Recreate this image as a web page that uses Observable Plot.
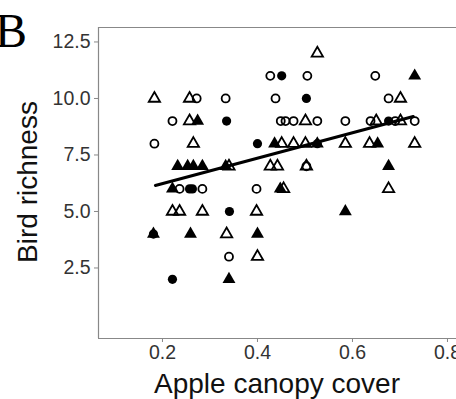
<!DOCTYPE html>
<html>
<head>
<meta charset="utf-8">
<script src="https://cdn.jsdelivr.net/npm/d3@7"></script>
<script src="https://cdn.jsdelivr.net/npm/@observablehq/plot@0.6"></script>
<style>
  html, body { margin: 0; padding: 0; background: #fff; }
  #chart { width: 456px; height: 399px; overflow: hidden; }
</style>
</head>
<body>
<div id="chart"></div>
<script>
// Tick values
const xTicks = [0.2, 0.4, 0.6, 0.8];
const yTicks = [2.5, 5.0, 7.5, 10.0, 12.5];

// Open circles
const openCircleX = [0.427, 0.505, 0.648, 0.272, 0.333, 0.438, 0.676, 0.221, 0.449, 0.459, 0.476, 0.526, 0.585, 0.638, 0.690, 0.731, 0.183, 0.503, 0.236, 0.284, 0.398, 0.340];
const openCircleY = [11, 11, 11, 10, 10, 10, 10, 9, 9, 9, 9, 9, 9, 9, 9, 9, 8, 7, 6, 6, 6, 3];

// Open triangles
const openTriX = [0.526, 0.183, 0.257, 0.701, 0.257, 0.501, 0.650, 0.701, 0.265, 0.451, 0.476, 0.501, 0.585, 0.636, 0.731, 0.340, 0.427, 0.442, 0.503, 0.455, 0.676, 0.221, 0.236, 0.284, 0.398, 0.335, 0.400];
const openTriY = [12, 10, 10, 10, 9, 9, 9, 9, 8, 8, 8, 8, 8, 8, 8, 7, 7, 7, 7, 6, 6, 5, 5, 5, 5, 4, 3];

// Filled circles
const fillCircleX = [0.451, 0.503, 0.335, 0.676, 0.400, 0.526, 0.257, 0.263, 0.341, 0.181, 0.221];
const fillCircleY = [11, 10, 9, 9, 8, 8, 6, 6, 5, 4, 2];

// Filled triangles
const fillTriX = [0.731, 0.274, 0.436, 0.526, 0.653, 0.232, 0.253, 0.265, 0.284, 0.333, 0.676, 0.221, 0.448, 0.585, 0.181, 0.259, 0.400, 0.340];
const fillTriY = [11, 9, 8, 8, 8, 7, 7, 7, 7, 7, 7, 6, 6, 5, 4, 4, 4, 2];

// Fitted line
const fitX = [0.185, 0.728];
const fitY = [6.15, 9.2];

const xDomain = [0.0653, 0.819];
const yDomain = [-0.62, 13.14];

const zip = (xs, ys) => xs.map((x, i) => ({x, y: ys[i]}));
const openCircles = zip(openCircleX, openCircleY);
const openTris = zip(openTriX, openTriY);
const fillCircles = zip(fillCircleX, fillCircleY);
const fillTris = zip(fillTriX, fillTriY);
const fit = zip(fitX, fitY);

const plot = Plot.plot({
  width: 456,
  height: 399,
  marginLeft: 98,
  marginRight: 0,
  marginTop: 27,
  marginBottom: 61,
  style: {fontFamily: "'Liberation Sans', Arial, sans-serif", fontSize: "19.5px", color: "#333", background: "#fff", overflow: "visible"},
  x: {domain: xDomain, ticks: xTicks, tickFormat: d => d.toFixed(1), tickSize: 4, tickPadding: 3, label: null},
  y: {domain: yDomain, ticks: yTicks, tickFormat: d => d.toFixed(1), tickSize: 4, tickPadding: 4, label: null},
  marks: [
    Plot.ruleX([xDomain[0]], {stroke: "#888", strokeWidth: 1.2}),
    Plot.ruleY([yDomain[0]], {stroke: "#888", strokeWidth: 1.2}),
    Plot.ruleY([yDomain[1]], {stroke: "#888", strokeWidth: 1.2}),
    Plot.dot(openCircles, {x: "x", y: "y", symbol: "circle", r: 4, fill: "none", stroke: "#000", strokeWidth: 1.8}),
    Plot.dot(openTris, {x: "x", y: "y", symbol: "triangle", r: 4.2, fill: "none", stroke: "#000", strokeWidth: 1.8}),
    Plot.dot(fillCircles, {x: "x", y: "y", symbol: "circle", r: 4.6, fill: "#000", stroke: "none"}),
    Plot.dot(fillTris, {x: "x", y: "y", symbol: "triangle", r: 4.8, fill: "#000", stroke: "none"}),
    Plot.line(fit, {x: "x", y: "y", stroke: "#000", strokeWidth: 3})
  ]
});

document.getElementById("chart").appendChild(plot);

const svg = d3.select(plot);
svg.selectAll("[aria-label='x-axis tick'] path, [aria-label='y-axis tick'] path").attr("stroke", "#888");

// Axis titles and panel letter
svg.append("text")
  .attr("x", 277).attr("y", 393)
  .attr("text-anchor", "middle")
  .attr("font-family", "'Liberation Sans', Arial, sans-serif")
  .attr("font-size", 28).attr("fill", "#111")
  .text("Apple canopy cover");

svg.append("text")
  .attr("transform", "translate(37,182) rotate(-90)")
  .attr("text-anchor", "middle")
  .attr("font-family", "'Liberation Sans', Arial, sans-serif")
  .attr("font-size", 28).attr("fill", "#111")
  .text("Bird richness");

svg.append("text")
  .attr("x", 11).attr("y", 47)
  .attr("font-family", "'Liberation Serif', 'Times New Roman', serif")
  .attr("font-size", 48).attr("fill", "#000")
  .text("B");
</script>
</body>
</html>
